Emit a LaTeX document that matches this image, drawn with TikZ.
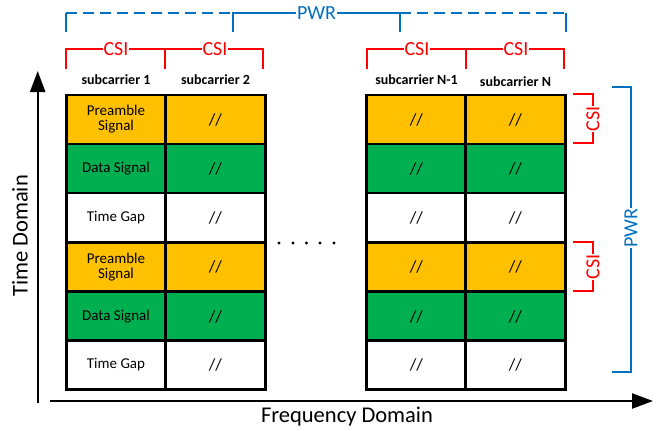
\documentclass[tikz,border=0pt]{standalone}
\usepackage{fontspec}
\setmainfont{Carlito}
\usetikzlibrary{arrows.meta}
\definecolor{cOrange}{RGB}{255,192,0}
\definecolor{cGreen}{RGB}{0,176,80}
\definecolor{cRed}{RGB}{255,0,0}
\definecolor{cBlue}{RGB}{0,112,192}
\tikzset{
  cell/.style={draw=black, line width=2.6pt, minimum width=99.5pt, minimum height=49pt,
    inner sep=0pt, outer sep=0pt, align=center},
  pre/.style={cell, fill=cOrange},
  dat/.style={cell, fill=cGreen},
  gap/.style={cell, fill=white},
  celltxt/.style={font=\fontsize{15}{16}\selectfont, align=center, inner sep=0pt},
  slash/.style={font=\fontsize{17}{17}\selectfont, inner sep=0pt},
  csiline/.style={draw=cRed, line width=2.6pt},
  pwrline/.style={draw=cBlue, line width=2.6pt},
  pwrdash/.style={pwrline, dash pattern=on 11pt off 6pt},
  csilbl/.style={fill=white, text=cRed, inner sep=1pt, font=\fontsize{20}{20}\selectfont},
  pwrlbl/.style={fill=white, text=cBlue, inner sep=1pt, font=\fontsize{20}{20}\selectfont},
  sclbl/.style={font=\bfseries\fontsize{14}{14}\selectfont, inner sep=0pt},
  axislbl/.style={font=\fontsize{22.5}{22.5}\selectfont, inner sep=0pt},
  axis/.style={line width=2.4pt, -{Triangle[width=15pt,length=21pt]}},
  dot/.style={circle, fill=black, inner sep=0pt, minimum size=3.2pt}
}
\begin{document}
\begin{tikzpicture}[x=1pt,y=-1pt]
\useasboundingbox (0,0) rectangle (665,431);
% cells
\foreach \cx/\col in {116/a,215.5/b,416.5/c,515.5/d}{
  \node[pre] (\col1) at (\cx,119.5) {};
  \node[dat] (\col2) at (\cx,168.5) {};
  \node[gap] (\col3) at (\cx,217.5) {};
  \node[pre] (\col4) at (\cx,267) {};
  \node[dat] (\col5) at (\cx,316.5) {};
  \node[gap] (\col6) at (\cx,365) {};
}
\node[celltxt] (ta1) at (a1) {Preamble\\[-1pt]Signal};
\node[celltxt] (ta2) at (a2) {Data Signal};
\node[celltxt] (ta3) at (a3) {Time Gap};
\node[celltxt] (ta4) at (a4) {Preamble\\[-1pt]Signal};
\node[celltxt] (ta5) at (a5) {Data Signal};
\node[celltxt] (ta6) at (a6) {Time Gap};
\foreach \col in {b,c,d}{
  \foreach \r in {1,...,6}{
    \node[slash] (s\col\r) at (\col\r) {//};
  }
}
% subcarrier labels
\node[sclbl] (sc1) at (116,80) {subcarrier 1};
\node[sclbl] (sc2) at (215.5,80) {subcarrier 2};
\node[sclbl] (scn1) at (416.5,80) {subcarrier N-1};
\node[sclbl] (scn) at (515.5,82) {subcarrier N};
% dots
\foreach \i/\x in {1/279,2/293,3/306.5,4/320,5/334}{
  \node[dot] (dot\i) at (\x,243) {};
}
% top CSI brackets
\draw[csiline] (66,69) -- (66,49) -- (263,49) -- (263,69);
\draw[csiline] (165,49) -- (165,69);
\node[csilbl] (csi1) at (116,49) {CSI};
\node[csilbl] (csi2) at (215,49) {CSI};
\draw[csiline] (367,69) -- (367,49) -- (564,49) -- (564,69);
\draw[csiline] (466,49) -- (466,69);
\node[csilbl] (csi3) at (417,49) {CSI};
\node[csilbl] (csi4) at (516,49) {CSI};
% top PWR bracket
\draw[pwrline] (66,32) -- (66,13);
\draw[pwrdash] (66,13) -- (233,13);
\draw[pwrline] (233,32) -- (233,13) -- (400,13) -- (400,32);
\draw[pwrdash] (400,13) -- (566,13);
\draw[pwrline] (566,13) -- (566,32);
\node[pwrlbl] (pwrtop) at (316.5,13) {PWR};
% right CSI brackets
\draw[csiline] (573,94) -- (593,94) -- (593,143) -- (573,143);
\node[csilbl, rotate=90] (csir1) at (593,119) {CSI};
\draw[csiline] (573,242) -- (593,242) -- (593,291) -- (573,291);
\node[csilbl, rotate=90] (csir2) at (593,267) {CSI};
% right PWR bracket
\draw[pwrline] (612,87) -- (631,87) -- (631,372) -- (612,372);
\node[pwrlbl, rotate=90] (pwrr) at (631,228) {PWR};
% axes
\coordinate (yb) at (37.7,403);
\coordinate (yt) at (37.7,71);
\coordinate (xl) at (50,401);
\coordinate (xr) at (653,401);
\draw[axis] (yb) -- (yt);
\draw[axis] (xl) -- (xr);
\node[axislbl, rotate=90] (tdom) at (20,236) {Time Domain};
\node[axislbl] (fdom) at (347,417) {Frequency Domain};
\end{tikzpicture}
\end{document}
